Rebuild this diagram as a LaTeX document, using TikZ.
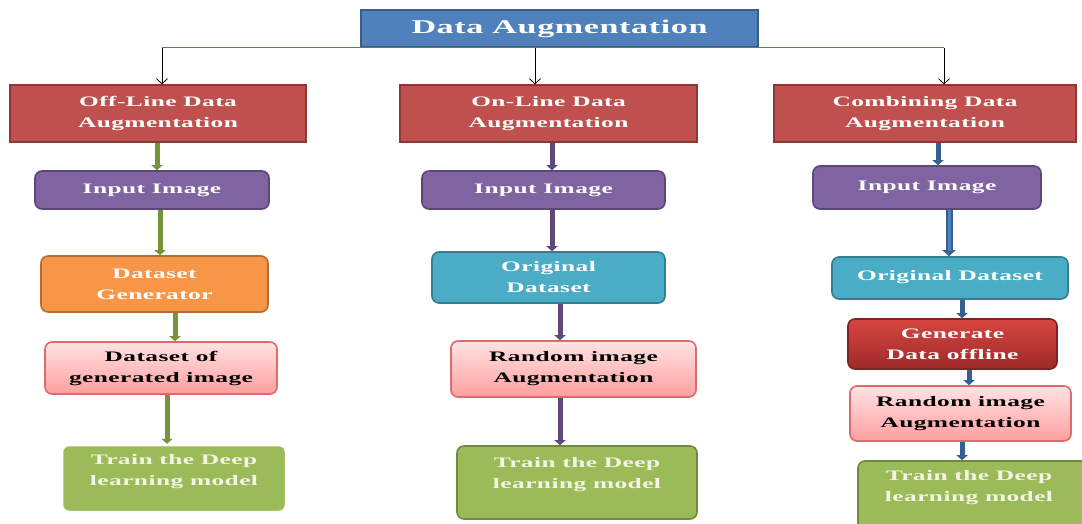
\documentclass[tikz,border=0pt]{standalone}
\usepackage{fontspec}
\setmainfont{Liberation Serif}[FakeStretch=1.75, LetterSpace=3]
\usetikzlibrary{arrows.meta}

\definecolor{titleblue}{HTML}{4F81BD}
\definecolor{titleedge}{HTML}{385D8A}
\definecolor{headred}{HTML}{C0504D}
\definecolor{headedge}{HTML}{8C3836}
\definecolor{purp}{HTML}{8064A2}
\definecolor{purpedge}{HTML}{5C4776}
\definecolor{orng}{HTML}{F79646}
\definecolor{orngedge}{HTML}{B66D31}
\definecolor{cyanbox}{HTML}{4BACC6}
\definecolor{cyanedge}{HTML}{357D91}
\definecolor{grn}{HTML}{9BBB59}
\definecolor{grnedge}{HTML}{71893F}
\definecolor{pinktop}{HTML}{FFE3E3}
\definecolor{pinkbot}{HTML}{FF9E9E}
\definecolor{pinkedge}{HTML}{DD6B6B}
\definecolor{gentop}{HTML}{D6453F}
\definecolor{genbot}{HTML}{9E2A2A}
\definecolor{arrgreen}{HTML}{77933C}
\definecolor{arrpurp}{HTML}{5F497A}
\definecolor{arrblue}{HTML}{376092}
\definecolor{linered}{HTML}{C0504D}
\definecolor{traintext}{HTML}{F4F4E6}

\newcommand\fs{\fontsize{14.5}{21}\selectfont}
% box from corner (x1,y1) to corner (x2,y2)
\newcommand\boxat[7]{%
  \node[#6, minimum width={#4-#2}, minimum height={#5-#3}]
    (#1) at ({(#2+#4)/2},{(#3+#5)/2}) {#7};}

\begin{document}
\begin{tikzpicture}[x=1pt,y=-1pt,
  titlebox/.style={draw=titleedge, fill=titleblue, line width=1.5pt,
    text=white, font=\bfseries\fontsize{19.5}{24}\selectfont, inner sep=0pt},
  headbox/.style={draw=headedge, fill=headred, line width=1.5pt, text=white,
    font=\bfseries\fs, align=center, inner sep=0pt},
  rbox/.style={rounded corners=7pt, line width=1.6pt, align=center,
    inner sep=0pt, font=\bfseries\fs},
  inputbox/.style={rbox, fill=purp, draw=purpedge, text=white},
  orangebox/.style={rbox, fill=orng, draw=orngedge, text=white},
  origbox/.style={rbox, fill=cyanbox, draw=cyanedge, text=white},
  pinkbox/.style={rbox, top color=pinktop, bottom color=pinkbot, draw=pinkedge, text=black},
  genbox/.style={rbox, top color=gentop, bottom color=genbot, draw=genbot!80!black, text=white},
  trainbox/.style={rbox, fill=grn, draw=grnedge},
  traintxt/.style={font=\bfseries\fs, text=traintext, align=center, inner sep=0pt},
  thin arrow/.style={draw=black, line width=0.8pt, -{Straight Barb[length=5pt,width=11pt]}},
  fat arrow/.style={line width=5pt, -{Triangle[length=5pt,width=11pt]}},
]
\useasboundingbox (0,0) rectangle (1082,523);

% top level
\boxat{title}{361}{10}{758}{47}{titlebox}{Data Augmentation}
\boxat{off}{10}{85}{306}{142}{headbox}{Off-Line Data\\Augmentation}
\boxat{on}{400}{85}{697}{142}{headbox}{On-Line Data\\Augmentation}
\boxat{comb}{774}{85}{1076}{142}{headbox}{Combining Data\\Augmentation}

% column of the off-line method
\boxat{inA}{35}{171}{269}{209}{inputbox}{Input Image}
\boxat{genA}{41}{256}{268}{312}{orangebox}{Dataset\\Generator}
\boxat{dsA}{45}{342}{277}{394}{pinkbox}{Dataset of\\generated image}
\boxat{trA}{62}{445}{286}{512}{trainbox, draw=white, line width=2.5pt}{}
\node[traintxt] (trAt) at (174,472) {Train the Deep\\learning model};

% column of the on-line method
\boxat{inB}{422}{171}{665}{209}{inputbox}{Input Image}
\boxat{origB}{432}{252}{665}{303}{origbox}{Original\\Dataset}
\boxat{randB}{451}{341}{696}{397}{pinkbox}{Random image\\Augmentation}
\boxat{trB}{457}{446}{697}{519}{trainbox}{}
\node[traintxt] (trBt) at (577,475) {Train the Deep\\learning model};

% column of the combined method
\boxat{inC}{813}{166}{1041}{209}{inputbox}{\raisebox{4pt}{Input Image}}
\boxat{origC}{832}{257}{1068}{299}{origbox}{\raisebox{5pt}{Original Dataset}}
\boxat{genC}{848}{319}{1057}{369}{genbox}{Generate\\Data offline}
\boxat{randC}{850}{386}{1071}{441}{pinkbox}{Random image\\Augmentation}
\boxat{trC}{858}{461}{1090}{535}{trainbox}{}
\node[traintxt] (trCt) at (969,488) {Train the Deep\\learning model};

% branching from the title
\coordinate (xa) at (162,0);
\coordinate (xb) at (535,0);
\coordinate (xc) at (944,0);
\draw[linered, line width=0.8pt] (title.south -| xa) -- (title.south -| xc);
\draw[thin arrow] (title.south -| xa) -- (off.north -| xa);
\draw[thin arrow] (title.south -| xb) -- (on.north -| xb);
\draw[thin arrow] (title.south -| xc) -- (comb.north -| xc);

% flow of the off-line method
\coordinate (a1) at (157,0);
\coordinate (a2) at (160,0);
\coordinate (a3) at (175,0);
\coordinate (a4) at (167,0);
\draw[fat arrow, arrgreen] (off.south -| a1) -- (inA.north -| a1);
\draw[fat arrow, arrgreen] (inA.south -| a2) -- (genA.north -| a2);
\draw[fat arrow, arrgreen] (genA.south -| a3) -- (dsA.north -| a3);
\draw[fat arrow, arrgreen] (dsA.south -| a4) -- (trA.north -| a4);

% flow of the on-line method
\coordinate (b1) at (552,0);
\coordinate (b2) at (560,0);
\draw[fat arrow, arrpurp] (on.south -| b1) -- (inB.north -| b1);
\draw[fat arrow, arrpurp] (inB.south -| b1) -- (origB.north -| b1);
\draw[fat arrow, arrpurp] (origB.south -| b2) -- (randB.north -| b2);
\draw[fat arrow, arrpurp] (randB.south -| b2) -- (trB.north -| b2);

% flow of the combined method
\coordinate (c1) at (938,0);
\coordinate (c2) at (949,0);
\coordinate (c3) at (962,0);
\coordinate (c4) at (969,0);
\draw[fat arrow, arrblue] (comb.south -| c1) -- (inC.north -| c1);
\draw[fat arrow, arrblue, line width=7pt, -{Triangle[length=6pt,width=13pt]}] (inC.south -| c2) -- (origC.north -| c2);
\draw[line width=3pt, titleblue, shorten >=5pt] (inC.south -| c2) -- (origC.north -| c2);
\draw[fat arrow, arrblue] (origC.south -| c3) -- (genC.north -| c3);
\draw[fat arrow, arrblue] (genC.south -| c4) -- (randC.north -| c4);
\draw[fat arrow, arrblue] (randC.south -| c3) -- (trC.north -| c3);
\end{tikzpicture}
\end{document}
